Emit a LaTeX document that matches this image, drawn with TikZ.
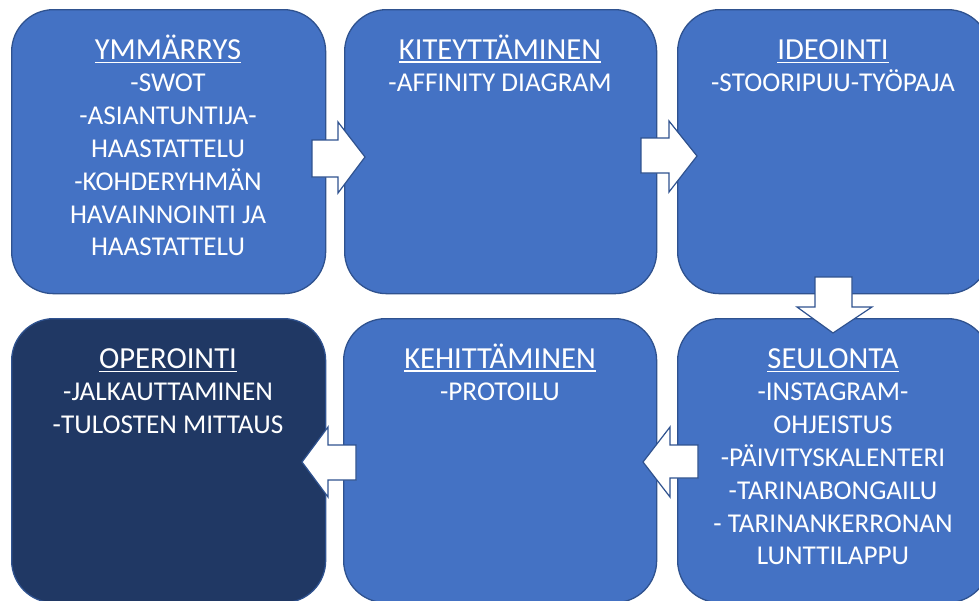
\documentclass[tikz,border=0pt]{standalone}
\usepackage{fontspec}
\setmainfont{Carlito}
\definecolor{boxblue}{HTML}{4472C4}
\definecolor{boxedge}{HTML}{2F528F}
\definecolor{boxdark}{HTML}{203864}
\newcommand\ulx[1]{\leavevmode\vtop{\hbox{\fontsize{30.6}{32.7}\selectfont #1}\kern2.4pt\hrule height 1.2pt}}
\tikzset{
  box/.style={draw=boxedge, line width=1.3pt, fill=boxblue, rounded corners=42pt,
    minimum width=314pt, minimum height=284pt, anchor=north west, inner sep=0pt},
  darkbox/.style={box, fill=boxdark},
  boxtext/.style={anchor=base, inner sep=0pt, text=white,
    font=\fontsize{27.2}{32.8}\selectfont},
  blockarrow/.style={draw=boxedge, line width=1.2pt, fill=white, line join=miter}
}
\newcommand\boxlines[1]{\parbox[t]{330pt}{\centering #1}}
\begin{document}
\begin{tikzpicture}[x=1pt,y=-1pt]
\useasboundingbox (0,0) rectangle (979,600);
\clip (0,0) rectangle (979,600);
% boxes
\node[box] (b1) at (11,9) {};
\node[box, minimum width=312pt] (b2) at (344,9) {};
\node[box, minimum width=312pt] (b3) at (677,9) {};
\node[darkbox] (b4) at (11,318) {};
\node[box, minimum width=313pt] (b5) at (343,318) {};
\node[box, minimum width=312pt] (b6) at (677,318) {};
% texts
\node[boxtext] (t1) at (168,59) {\boxlines{\ulx{YMMÄRRYS}\\-SWOT\\-ASIANTUNTIJA-\\HAASTATTELU\\-KOHDERYHMÄN\\HAVAINNOINTI JA\\HAASTATTELU}};
\node[boxtext] (t2) at (500,59) {\boxlines{\ulx{KITEYTTÄMINEN}\\-AFFINITY DIAGRAM}};
\node[boxtext] (t3) at (833,59) {\boxlines{\ulx{IDEOINTI}\\-STOORIPUU-TYÖPAJA}};
\node[boxtext] (t4) at (168,368) {\boxlines{\ulx{OPEROINTI}\\-JALKAUTTAMINEN\\-TULOSTEN MITTAUS}};
\node[boxtext] (t5) at (500,368) {\boxlines{\ulx{KEHITTÄMINEN}\\-PROTOILU}};
\node[boxtext] (t6) at (833,368) {\boxlines{\ulx{SEULONTA}\\-INSTAGRAM-\\OHJEISTUS\\-PÄIVITYSKALENTERI\\-TARINABONGAILU\\- TARINANKERRONAN\\LUNTTILAPPU}};
% block arrows
\draw[blockarrow] (312,140) -- (338,140) -- (338,122) -- (365,157) -- (338,193) -- (338,177) -- (312,177) -- cycle;
\draw[blockarrow] (641,138) -- (669,138) -- (669,121) -- (697,156) -- (669,192) -- (669,173) -- (641,173) -- cycle;
\draw[blockarrow] (815,277) -- (852,277) -- (852,307) -- (872,307) -- (833,333) -- (797,307) -- (815,307) -- cycle;
\draw[blockarrow] (698,445) -- (670,445) -- (670,427) -- (643,462) -- (670,497) -- (670,478) -- (698,478) -- cycle;
\draw[blockarrow] (356,445) -- (328,445) -- (328,427) -- (302,462) -- (328,497) -- (328,480) -- (356,480) -- cycle;
\end{tikzpicture}
\end{document}
